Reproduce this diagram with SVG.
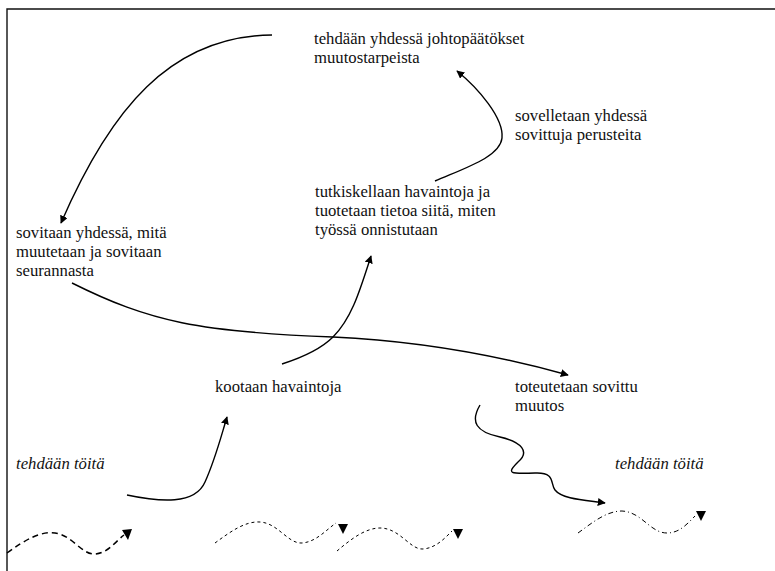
<svg xmlns="http://www.w3.org/2000/svg" width="775" height="571" viewBox="0 0 775 571">
<defs>
<marker id="ah" viewBox="0 0 10 10" refX="9" refY="5" markerWidth="8" markerHeight="8" markerUnits="userSpaceOnUse" orient="auto">
<path d="M0,0 L10,5 L0,10 Z" fill="#000"/>
</marker>
</defs>
<style>
.t{font-family:"Liberation Serif","Times New Roman",serif;font-size:16.7px;fill:#111}
.i{font-style:italic}
.c{fill:none;stroke:#000;stroke-width:1.4}
.d1{fill:none;stroke:#000;stroke-width:1.5;stroke-dasharray:6 4}
.d2{fill:none;stroke:#000;stroke-width:1;stroke-dasharray:3 3}
.d3{fill:none;stroke:#000;stroke-width:1;stroke-dasharray:5 3 1 3}
.h{fill:#000}
</style>
<rect width="775" height="571" fill="#fff"/>
<path d="M7,571 L7,9 L775,9" fill="none" stroke="#111" stroke-width="1.4"/>

<g id="n-johtopaatokset"><text class="t" x="314" y="44">tehdään yhdessä johtopäätökset</text><text class="t" x="314" y="63">muutostarpeista</text></g>
<g id="n-sovelletaan"><text class="t" x="515" y="121">sovelletaan yhdessä</text><text class="t" x="515" y="140">sovittuja perusteita</text></g>
<g id="n-tutkiskellaan"><text class="t" x="315" y="197">tutkiskellaan havaintoja ja</text><text class="t" x="315" y="216">tuotetaan tietoa siitä, miten</text><text class="t" x="315" y="235">työssä onnistutaan</text></g>
<g id="n-sovitaan"><text class="t" x="16" y="238">sovitaan yhdessä, mitä</text><text class="t" x="16" y="257">muutetaan ja sovitaan</text><text class="t" x="16" y="276">seurannasta</text></g>
<g id="n-kootaan"><text class="t" x="215" y="392">kootaan havaintoja</text></g>
<g id="n-toteutetaan"><text class="t" x="515" y="392">toteutetaan sovittu</text><text class="t" x="515" y="411">muutos</text></g>
<g id="n-toita1"><text class="t i" x="16" y="469">tehdään töitä</text></g>
<g id="n-toita2"><text class="t i" x="615" y="469">tehdään töitä</text></g>

<g id="connectors">
<path class="c" d="M272,35 C170,36 110,110 61,223" marker-end="url(#ah)"/>
<path class="c" d="M435,181 C465,168 500,157 502,138 C504,118 478,88 457,71" marker-end="url(#ah)"/>
<path class="c" d="M72,283 C150,322 200,332 333,337 C420,341 500,356 568,375" marker-end="url(#ah)"/>
<path class="c" d="M282,364 C310,355 325,345 333,337 C352,318 360,290 371,256" marker-end="url(#ah)"/>
<path class="c" d="M127,495 C160,502 195,505 205,482 C215,460 220,440 227,417" marker-end="url(#ah)"/>
<path class="c" d="M480,405 C470,422 476,432 500,437 C522,442 530,452 518,462 C506,474 510,474 535,473 C556,472 550,484 555,490 C562,499 584,500 605,503" marker-end="url(#ah)"/>
<path class="d1" d="M7,553 C25,540 40,531 55,533 C72,535 82,555 95,554 C108,553 115,542 124,535"/>
<polygon class="h" points="122,530 132,529 128,540"/>
<path class="d2" d="M215,543 C230,532 245,521 260,522 C278,523 288,544 302,543 C316,542 326,530 336,523"/>
<polygon class="h" points="338,524 348,524 343,534"/>
<path class="d2" d="M337,551 C350,540 365,528 380,528 C400,528 410,550 423,549 C436,548 445,538 452,531"/>
<polygon class="h" points="453,529 463,529 458,539"/>
<path class="d3" d="M578,533 C592,523 606,511 622,511 C642,512 650,533 667,533 C680,533 688,523 695,516"/>
<polygon class="h" points="696,511 706,511 701,521"/>
</g>
</svg>
